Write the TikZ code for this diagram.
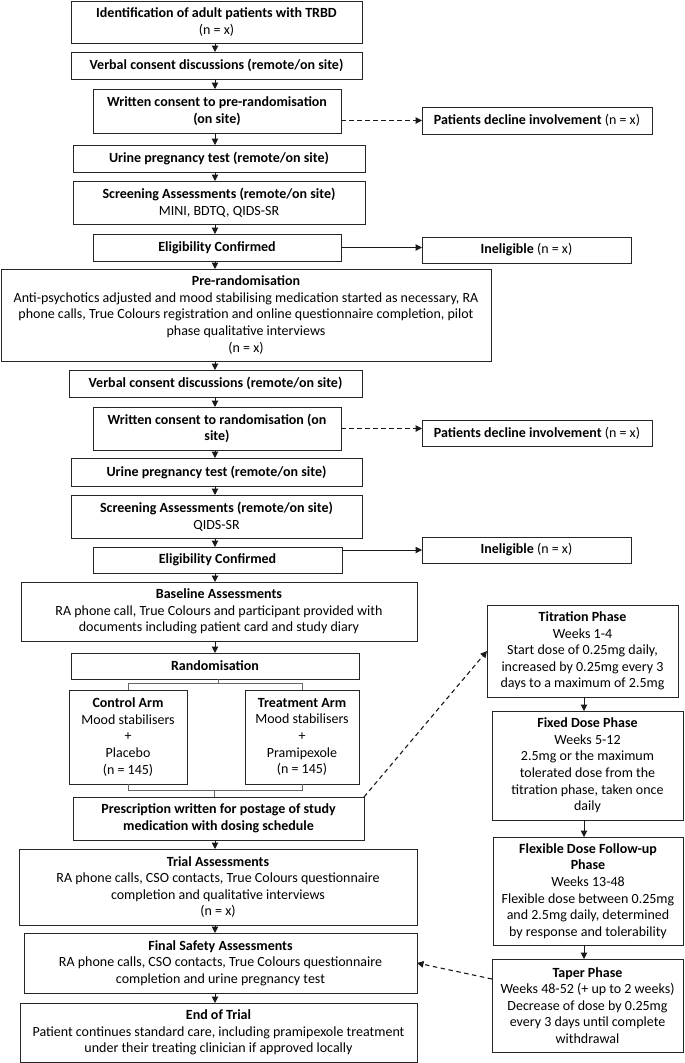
\documentclass[tikz,border=0pt]{standalone}
\usepackage{fontspec}
\setmainfont{Carlito}
\usetikzlibrary{arrows.meta,calc}
\tikzset{
  box/.style={draw=black!85, line width=1pt, fill=white, inner sep=0pt, outer sep=0pt, align=center,
    font=\fontsize{14}{16.6}\selectfont},
  arr/.style={draw=black!90, line width=1pt, -{Triangle[length=6.5pt,width=6.5pt]}},
  darr/.style={arr, line width=1.1pt, dash pattern=on 4.5pt off 3.5pt},
  brk/.style={draw=black!60, line width=0.9pt}
}
\newcommand\boxat[6]{%
  \node[box, minimum width={(#4-#2)*1pt}, minimum height={(#5-#3)*1pt}]
    (#1) at ({(#2+#4)/2},{(#3+#5)/2}) {#6};}
\begin{document}
\begin{tikzpicture}[x=1pt,y=-1pt]
\useasboundingbox[fill=white] (0,0) rectangle (685,1063);
\coordinate (spine) at (215,0);
\coordinate (rspine) at (584,0);

\boxat{ident}{71}{1}{362}{43}{\textbf{Identification of adult patients with TRBD}\\(n = x)}
\boxat{verbalA}{71}{52}{362}{79}{\textbf{Verbal consent discussions (remote/on site)}}
\boxat{writtenA}{93}{89}{341}{133}{\textbf{Written consent to pre-randomisation}\\\textbf{(on site)}}
\boxat{declineA}{422}{107}{652}{134}{\textbf{Patients decline involvement} (n = x)}
\boxat{urineA}{73}{145}{365}{172}{\textbf{Urine pregnancy test (remote/on site)}}
\boxat{screenA}{73}{181}{365}{224}{\textbf{Screening Assessments (remote/on site)}\\MINI, BDTQ, QIDS-SR}
\boxat{eligA}{93}{234}{341}{261}{\textbf{Eligibility Confirmed}}
\boxat{inelA}{422}{237}{631}{263}{\textbf{Ineligible} (n = x)}
\boxat{prerand}{1}{269}{491}{361}{\textbf{Pre-randomisation}\\Anti-psychotics adjusted and mood stabilising medication started as necessary, RA\\phone calls, True Colours registration and online questionnaire completion, pilot\\phase qualitative interviews\\(n = x)}
\boxat{verbalB}{69}{370}{362}{397}{\textbf{Verbal consent discussions (remote/on site)}}
\boxat{writtenB}{93}{407}{341}{450}{\textbf{Written consent to randomisation (on}\\\textbf{site)}}
\boxat{declineB}{422}{420}{652}{446}{\textbf{Patients decline involvement} (n = x)}
\boxat{urineB}{71}{458}{362}{486}{\textbf{Urine pregnancy test (remote/on site)}}
\boxat{screenB}{71}{495}{362}{538}{\textbf{Screening Assessments (remote/on site)}\\QIDS-SR}
\boxat{eligB}{93}{547}{342}{573}{\textbf{Eligibility Confirmed}}
\boxat{inelB}{422}{537}{631}{563}{\textbf{Ineligible} (n = x)}
\boxat{baseline}{21}{582}{417}{641}{\textbf{Baseline Assessments}\\RA phone call, True Colours and participant provided with\\documents including patient card and study diary}
\boxat{random}{71}{653}{359}{679}{\textbf{Randomisation}}
\boxat{control}{69}{690}{187}{784}{\textbf{Control Arm}\\Mood stabilisers\\+\\Placebo\\(n = 145)}
\boxat{treat}{245}{690}{359}{784}{\textbf{Treatment Arm}\\Mood stabilisers\\+\\Pramipexole\\(n = 145)}
\boxat{prescr}{73}{797}{364}{840}{\textbf{Prescription written for postage of study}\\\textbf{medication with dosing schedule}}
\boxat{trial}{19}{849}{417}{925}{\textbf{Trial Assessments}\\RA phone calls, CSO contacts, True Colours questionnaire\\completion and qualitative interviews\\(n = x)}
\boxat{final}{24}{933}{417}{993}{\textbf{Final Safety Assessments}\\RA phone calls, CSO contacts, True Colours questionnaire\\completion and urine pregnancy test}
\boxat{endt}{20}{1003}{417}{1062}{\textbf{End of Trial}\\Patient continues standard care, including pramipexole treatment\\under their treating clinician if approved locally}
\boxat{titr}{487}{605}{678}{697}{\textbf{Titration Phase}\\Weeks 1-4\\Start dose of 0.25mg daily,\\increased by 0.25mg every 3\\days to a maximum of 2.5mg}
\boxat{fixed}{492}{711}{683}{820}{\textbf{Fixed Dose Phase}\\Weeks 5-12\\2.5mg or the maximum\\tolerated dose from the\\titration phase, taken once\\daily}
\boxat{flex}{493}{837}{683}{945}{\textbf{Flexible Dose Follow-up}\\\textbf{Phase}\\Weeks 13-48\\Flexible dose between 0.25mg\\and 2.5mg daily, determined\\by response and tolerability}
\boxat{taper}{492}{959}{683}{1052}{\textbf{Taper Phase}\\Weeks 48-52 (+ up to 2 weeks)\\Decrease of dose by 0.25mg\\every 3 days until complete\\withdrawal}

% main spine arrows
\foreach \a/\b in {ident/verbalA, verbalA/writtenA, writtenA/urineA, urineA/screenA, screenA/eligA,
  eligA/prerand, prerand/verbalB, verbalB/writtenB, writtenB/urineB, urineB/screenB, screenB/eligB,
  eligB/baseline, baseline/random, prescr/trial, trial/final, final/endt}
  \draw[arr] (\a.south -| spine) -- (\b.north -| spine);

% right column arrows
\foreach \a/\b in {titr/fixed, fixed/flex, flex/taper}
  \draw[arr] (\a.south -| rspine) -- (\b.north -| rspine);

% side arrows
\draw[darr] (writtenA.east |- declineA.west) -- (declineA.west);
\draw[arr] (eligA.east) -- (eligA.east -| inelA.west);
\draw[darr] (writtenB.east) -- (writtenB.east -| declineB.west);
\draw[arr] (inelB.west -| eligB.east) -- (inelB.west);

% randomisation brackets
\coordinate (bt) at ($(random.south)+(3,4)$);
\coordinate (bb) at ($(control.south)+(0,6)$);
\draw[brk] (random.south -| bt) -- (bt);
\draw[brk] (control.north) -- (control.north |- bt) -- (treat.north |- bt) -- (treat.north);
\draw[brk] (control.south) -- (bb) -- (treat.south |- bb) -- (treat.south);
\draw[brk] (prescr.north) ++(-4,0) coordinate (pc) -- (pc |- bb);

% dashed connectors to/from dosing schedule
\draw[darr] (prescr.north east) -- (titr.west);
\draw[darr] ($(taper.north west)!0.215!(taper.south west)$) -- (final.east);
\end{tikzpicture}
\end{document}
